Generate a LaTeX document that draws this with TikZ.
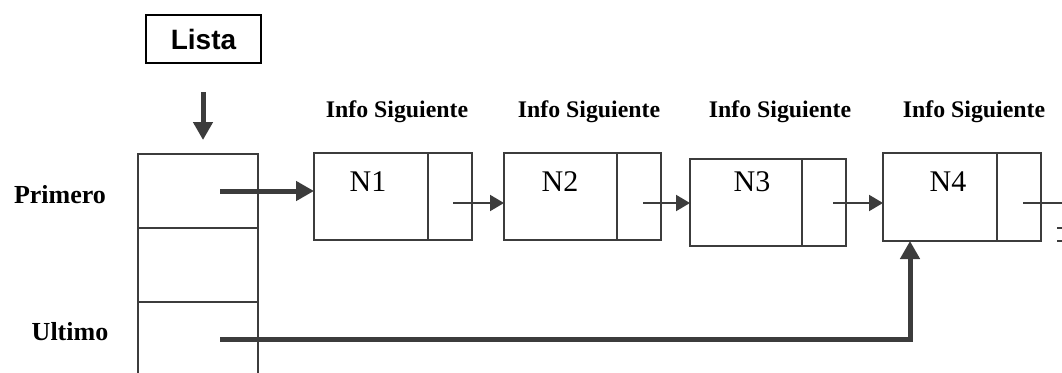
\documentclass[tikz,border=0pt]{standalone}
\usepackage{fontspec}
\setmainfont{Liberation Serif}
\newfontfamily\arialf{Liberation Sans}
\usetikzlibrary{arrows.meta}
\definecolor{lc}{HTML}{3C3C3C}
\begin{document}
\begin{tikzpicture}[x=1pt,y=-1pt,
  ln/.style={draw=lc, line width=2pt},
  cellbox/.style={draw=lc, line width=2pt, inner sep=0pt, outer sep=0pt, minimum height=87pt},
  infobox/.style={cellbox, minimum width=114pt},
  nextbox/.style={cellbox, minimum width=44pt},
  stackcell/.style={draw=lc, line width=2pt, inner sep=0pt, outer sep=0pt, minimum width=120pt, minimum height=74pt},
  hdr/.style={font=\fontsize{23.8}{28}\selectfont\bfseries, inner sep=0pt},
  side/.style={font=\fontsize{26}{30}\selectfont\bfseries, inner sep=0pt},
  ntext/.style={font=\fontsize{30}{34}\selectfont, inner sep=0pt},
  thinarr/.style={draw=lc, line width=2pt, -{Triangle[length=14pt,width=16pt]}},
  thickarr/.style={draw=lc, line width=5pt, -{Triangle[length=18pt,width=19pt]}}
]
\useasboundingbox (0,0) rectangle (1062,372);

% Lista box
\node[draw=black, line width=2pt, minimum width=115pt, minimum height=48pt, inner sep=0pt,
      font=\arialf\fontsize{28}{32}\selectfont\bfseries] (lista) at (203.5,39) {Lista};

% stack
\node[stackcell] (S1) at (198,191) {};
\node[stackcell] (S2) at (198,265) {};
\coordinate (S3l) at (138,375);
\coordinate (S3r) at (258,375);
\draw[ln] (S2.south west) -- (S3l);
\draw[ln] (S2.south east) -- (S3r);

\node[side] (prim) at (60,195) {Primero};
\node[side] (ult) at (70,332) {Ultimo};

% down arrow
\coordinate (d) at (203,92);
\draw[thickarr, shorten >=14pt] (d) -- (d |- S1.north);

% nodes
\node[infobox] (N1i) at (371,196.5) {};
\node[nextbox] (N1n) at (449.5,196.5) {};
\node[infobox, minimum width=113pt] (N2i) at (560.5,196.5) {};
\node[nextbox] (N2n) at (639,196.5) {};
\node[infobox, minimum width=112pt] (N3i) at (746,202.5) {};
\node[nextbox] (N3n) at (824,202.5) {};
\node[infobox, minimum height=88pt] (N4i) at (940,197) {};
\node[nextbox, minimum height=88pt] (N4n) at (1019,197) {};

\node[ntext] (t1) at (368,182) {N1};
\node[ntext] (t2) at (560,182) {N2};
\node[ntext] (t3) at (752,182) {N3};
\node[ntext] (t4) at (948,182) {N4};

\node[hdr] (h1) at (397,112) {Info Siguiente};
\node[hdr] (h2) at (589,112) {Info Siguiente};
\node[hdr] (h3) at (780,112) {Info Siguiente};
\node[hdr] (h4) at (974,112) {Info Siguiente};

% thin arrows
\coordinate (c1) at (453,203);
\coordinate (c2) at (643,203);
\coordinate (c3) at (833,203);
\coordinate (c4) at (1023,203);
\coordinate (e4) at (1064,203);
\draw[thinarr] (c1) -- (c1 -| N2i.west);
\draw[thinarr] (c2) -- (c2 -| N3i.west);
\draw[thinarr] (c3) -- (c3 -| N4i.west);
\draw[ln] (c4) -- (e4);
\coordinate (g1) at (1057,228);
\coordinate (g2) at (1064,228);
\coordinate (g3) at (1057,241);
\coordinate (g4) at (1064,241);
\draw[ln] (g1) -- (g2);
\draw[ln] (g3) -- (g4);

% thick arrows
\coordinate (p) at (220,191);
\draw[thickarr] (p) -- (p -| N1i.west);
\coordinate (u) at (220,339);
\coordinate (q) at (910,339);
\draw[thickarr] (u) -- (q) -- (q |- N4i.south);
\end{tikzpicture}
\end{document}
